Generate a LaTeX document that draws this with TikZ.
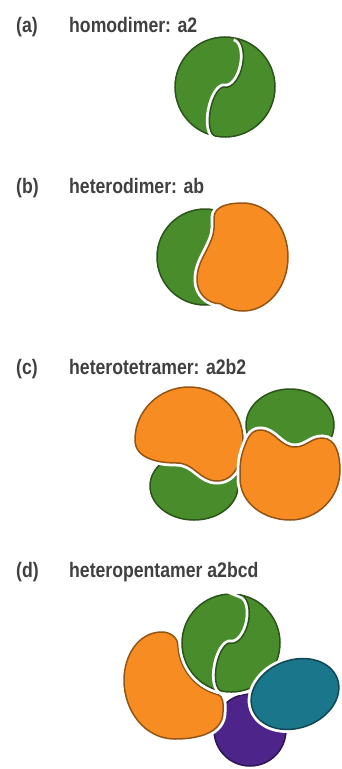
\documentclass[tikz,border=0pt]{standalone}
\usepackage{fontspec}
\newfontfamily\labelfont{Liberation Sans}[FakeStretch=0.84]
\usetikzlibrary{positioning}

\definecolor{chainA}{RGB}{72,140,44}
\definecolor{chainB}{RGB}{247,140,34}
\definecolor{chainC}{RGB}{26,118,138}
\definecolor{chainD}{RGB}{76,36,138}

\begin{document}
\begin{tikzpicture}[x=1pt,y=1pt,
    tag/.style={anchor=base west,inner sep=0pt,text=black!75,font=\labelfont\bfseries\fontsize{21}{21}\selectfont},
    subunit/.style={fill=#1,draw=#1!60!black,line width=1.5pt},
    over/.style={preaction={draw=white,line width=7pt}}]
	\useasboundingbox (0,0) rectangle (342,-769);

	% panel labels
	\node[tag] (tag-a) at (16,-32) {(a)};
	\node[tag] (name-a) at (69,-32) {homodimer: a2};
	\node[tag] (tag-b) at (16,-193) {(b)};
	\node[tag] (name-b) at (69,-193) {heterodimer: ab};
	\node[tag] (tag-c) at (16,-374) {(c)};
	\node[tag] (name-c) at (69,-374) {heterotetramer: a2b2};
	\node[tag] (tag-d) at (16,-577) {(d)};
	\node[tag] (name-d) at (69,-577) {heteropentamer a2bcd};

	% (a) two a chains
	\begin{scope}[shift={(225,-87)},rotate=-11]
		\path[subunit=chainA] (0,0) circle[radius=50];
		\path[subunit=chainA,over] (0,50) arc[start angle=90,end angle=-90,x radius=13,y radius=25]
			arc[start angle=90,end angle=270,x radius=10,y radius=25]
			arc[start angle=-90,end angle=90,radius=50] -- cycle;
	\end{scope}

	% (b) a + b
	\path[subunit=chainA] (205,-257) circle[radius=48];
	\path[subunit=chainB,over] (243,-203) arc[start angle=90,end angle=-120,x radius=45,y radius=54]
		to[out=180,in=-90] (197,-280) to[out=90,in=-110] (212,-238)
		to[out=70,in=-90] (214,-218) to[out=90,in=180] (243,-203) -- cycle;

	% (c) two a/b pairs
	\path[subunit=chainA] (194,-486) ellipse[x radius=44,y radius=34];
	\path[subunit=chainB,over] (135,-440) arc[start angle=180,end angle=0,x radius=54,y radius=53]
		to[out=-90,in=0] (217,-481) to[out=180,in=0] (177,-463)
		to[out=180,in=-90] (135,-440) -- cycle;
	\path[subunit=chainA,over] (290,-425) ellipse[x radius=44,y radius=36];
	\path[subunit=chainB,over] (244,-448) to[out=70,in=180] (260,-430) to[out=0,in=180] (295,-447)
		to[out=0,in=180] (322,-438) to[out=0,in=90] (340,-470) to[out=-90,in=0] (290,-520)
		to[out=180,in=-90] (240,-478) to[out=90,in=-110] (244,-448) -- cycle;

	% (d) a2 with b, c and d
	\path[subunit=chainD] (250,-730) circle[radius=36];
	\path[subunit=chainB,over] (178,-646) arc[start angle=183,end angle=255,radius=53]
		to[out=-15,in=90] (223,-712) to[out=-90,in=0] (175,-739)
		to[out=180,in=-90] (124,-680) to[out=90,in=180] (162,-632)
		to[out=0,in=90] (178,-646) -- cycle;
	\begin{scope}[shift={(231,-643)},rotate=-11]
		\path[subunit=chainA,over] (0,0) circle[radius=49];
		\path[subunit=chainA,over] (0,49) arc[start angle=90,end angle=-90,x radius=13,y radius=24.5]
			arc[start angle=90,end angle=270,x radius=10,y radius=24.5]
			arc[start angle=-90,end angle=90,radius=49] -- cycle;
	\end{scope}
	\path[subunit=chainC,over] (295,-694) ellipse[x radius=45,y radius=34,rotate=20];
\end{tikzpicture}
\end{document}
